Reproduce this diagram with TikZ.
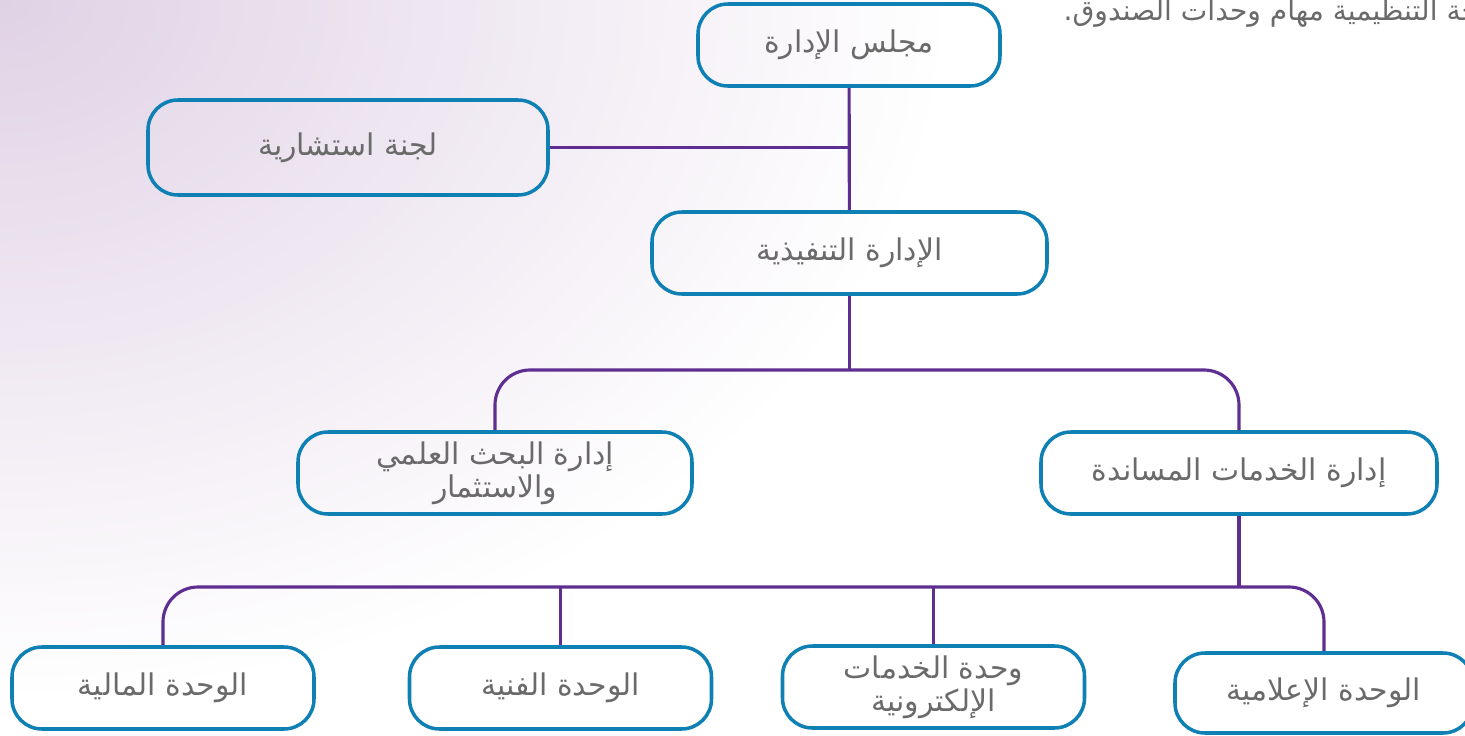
\documentclass[tikz,border=0pt]{standalone}
\usepackage{fontspec}
\newfontfamily\arabicfont[Script=Arabic]{DejaVu Sans}
\TeXXeTstate=1
\usepackage{tikz}
\usetikzlibrary{calc}
\usetikzlibrary{math}
\definecolor{bleuCadre}{HTML}{0E80B4}
\definecolor{violetLien}{HTML}{5E2E91}
\definecolor{grisTexte}{HTML}{6A6A6A}
\definecolor{lavande}{HTML}{E0D2E5}
\newcommand{\artxt}[1]{\beginR #1\endR}
\tikzset{
  boite/.style={draw=bleuCadre, line width=1pt, rounded corners=0.3cm,
    minimum width=3.02cm, minimum height=0.82cm, inner sep=0pt, align=center,
    text=grisTexte, font=\arabicfont\fontsize{8.5}{9.5}\selectfont},
  liaison/.style={draw=violetLien, line width=0.9pt},
}

\begin{document}
\begin{tikzpicture}
            \tikzmath{\largeur = 14.65; \hauteur = 7.35;}
                \useasboundingbox (0,0) rectangle (\largeur,\hauteur);
                \clip (0,0) rectangle (\largeur,\hauteur);
                \shade[inner color=lavande, outer color=white] (0,\hauteur) ellipse (9.5 and 7);
                \node[anchor=base west, inner sep=0pt, text=grisTexte, font=\arabicfont\fontsize{8}{9}\selectfont] (legende) at (10.63,7.15) {\artxt{حة التنظيمية مهام وحدات الصندوق.}};
                \node[boite] (conseil) at (8.49,6.90) {\artxt{مجلس الإدارة}};
                \node[boite, minimum width=4cm, minimum height=0.95cm] (comite) at (3.48,5.875) {\artxt{لجنة استشارية}};
                \node[boite, minimum width=3.95cm] (execution) at (8.495,4.82) {\artxt{الإدارة التنفيذية}};
                \node[boite, minimum width=3.94cm] (recherche) at (4.95,2.62) {\artxt{إدارة البحث العلمي}\\\artxt{والاستثمار}};
                \node[boite, minimum width=3.96cm] (services) at (12.39,2.62) {\artxt{إدارة الخدمات المساندة}};
                \node[boite] (finances) at (1.63,0.47) {\artxt{الوحدة المالية}};
                \node[boite] (technique) at (5.605,0.47) {\artxt{الوحدة الفنية}};
                \node[boite] (electronique) at (9.335,0.48) {\artxt{وحدة الخدمات}\\\artxt{الإلكترونية}};
                \node[boite, minimum width=2.98cm, minimum height=0.80cm] (medias) at (13.24,0.42) {\artxt{الوحدة الإعلامية}};
                \coordinate (bus1) at (0,3.65);
                \coordinate (bus2) at (0,1.48);
                \draw[liaison] (conseil) -- (execution);
                \draw[liaison] (comite) -- (comite -| conseil);
                \draw[liaison] (execution) -- (execution |- bus1);
                \draw[liaison, rounded corners=0.35cm] (recherche) |- (services |- bus1) -- (services);
                \draw[liaison] (services) -- (services |- bus2);
                \draw[liaison, rounded corners=0.35cm] (finances) |- (medias |- bus2) -- (medias);
                \draw[liaison] (technique) -- (technique |- bus2);
                \draw[liaison] (electronique) -- (electronique |- bus2);
            \end{tikzpicture}
\end{document}
